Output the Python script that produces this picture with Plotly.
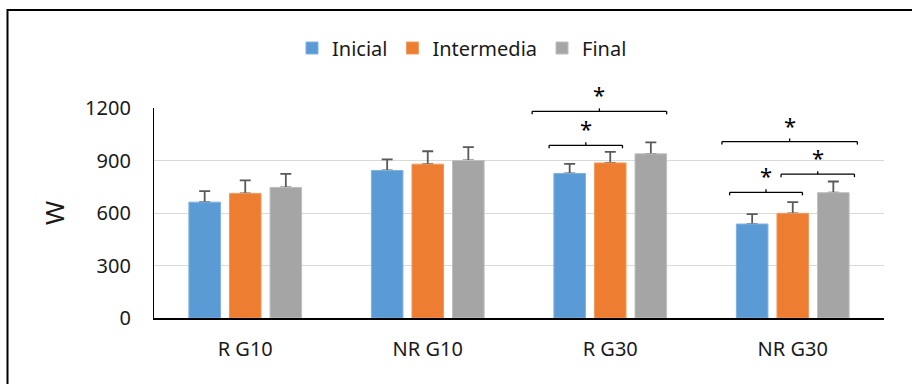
import plotly.graph_objects as go

# ---------------- data ----------------
categories = ["R G10", "NR G10", "R G30", "NR G30"]
series_names = ["Inicial", "Intermedia", "Final"]
inicial = [662, 843, 826, 537]
intermedia = [712, 879, 886, 598]
final = [746, 900, 938, 716]
err_inicial = [63, 64, 55, 57]
err_intermedia = [74, 74, 63, 64]
err_final = [78, 77, 66, 64]
y_ticks = [0, 300, 600, 900, 1200]

# significance brackets: category index, left/right offset (category units), y value
bracket_cat = [2, 2, 3, 3, 3]
bracket_x0 = [-0.428, -0.335, -0.388, -0.064, -0.346]
bracket_x1 = [0.309, 0.067, 0.354, 0.338, 0.053]
bracket_y = [1181, 987, 1008, 822, 718]
bracket_label = ["*", "*", "*", "*", "*"]

# ---------------- style ----------------
colors = ["#5B9BD5", "#ED7D31", "#A5A5A5"]
edge = ["#7FB2E0", "#F29A5E", "#BEBEBE"]
FONT = "Noto Sans"
W, H = 912, 384
ML, MR, MT, MB = 154, 28, 108, 66
plot_h = H - MT - MB
tick_data = 3 * (y_ticks[-1] - y_ticks[0]) / plot_h  # 3 px expressed in data units

values = [inicial, intermedia, final]
errors = [err_inicial, err_intermedia, err_final]
xs = list(range(len(categories)))

fig = go.Figure()
# invisible traces carrying the error bars (drawn first so the real bars cover the lower cap)
for i, name in enumerate(series_names):
    fig.add_trace(go.Bar(
        x=xs, y=values[i], offsetgroup=str(i), showlegend=False, hoverinfo="skip",
        marker=dict(color="rgba(0,0,0,0)", line=dict(width=0)),
        error_y=dict(type="data", symmetric=False, array=errors[i],
                     arrayminus=[0] * len(xs), color="#595959", thickness=1.8, width=5.5),
    ))
for i, name in enumerate(series_names):
    fig.add_trace(go.Bar(
        x=xs, y=values[i], name=name, offsetgroup=str(i),
        marker=dict(color=colors[i], line=dict(color=edge[i], width=1)),
    ))

shapes = []
annotations = []
for c, a, b, y, lab in zip(bracket_cat, bracket_x0, bracket_x1, bracket_y, bracket_label):
    x0, x1 = c + a, c + b
    xm = (x0 + x1) / 2
    line = dict(color="#000000", width=1.3)
    shapes.append(dict(type="line", xref="x", yref="y", x0=x0, x1=x1, y0=y, y1=y, line=line))
    shapes.append(dict(type="line", xref="x", yref="y", x0=x0, x1=x0, y0=y, y1=y - tick_data, line=line))
    shapes.append(dict(type="line", xref="x", yref="y", x0=x1, x1=x1, y0=y, y1=y - tick_data, line=line))
    shapes.append(dict(type="line", xref="x", yref="y", x0=xm, x1=xm, y0=y, y1=y + tick_data, line=line))
    annotations.append(dict(x=xm, y=y, xref="x", yref="y", text=lab, showarrow=False,
                            yanchor="middle", yshift=17,
                            font=dict(family=FONT, size=22, color="#000000")))

# outer chart frame (its right and bottom edges fall outside the picture)
pw = W - ML - MR
shapes.append(dict(type="rect", xref="paper", yref="paper",
                   x0=(7.5 - ML) / pw, x1=(W + 20 - ML) / pw,
                   y0=-(MB + 20) / plot_h, y1=(H - MB - 10) / plot_h,
                   line=dict(color="#000000", width=2), layer="above"))

fig.update_layout(
    width=W, height=H,
    margin=dict(l=ML, r=MR, t=MT, b=MB),
    paper_bgcolor="white", plot_bgcolor="white",
    barmode="group", bargap=0.333, bargroupgap=0.222,
    font=dict(family=FONT, size=20, color="#1a1a1a"),
    showlegend=True,
    legend=dict(orientation="h", x=(292 - ML) / pw, xanchor="left",
                y=(H - MB - 48) / plot_h, yanchor="middle",
                font=dict(family=FONT, size=20, color="#1a1a1a"),
                bgcolor="rgba(0,0,0,0)", traceorder="normal"),
    shapes=shapes,
    annotations=annotations,
    xaxis=dict(range=[-0.5, len(categories) - 0.5], tickvals=xs, ticktext=categories,
               showgrid=False, zeroline=False, showline=True, linecolor="#000000", linewidth=1.5,
               ticks="", ticklabelstandoff=12, tickfont=dict(family=FONT, size=20)),
    yaxis=dict(range=[y_ticks[0], y_ticks[-1]], tickvals=y_ticks, showgrid=True,
               gridcolor="#D9D9D9", gridwidth=1.3, zeroline=False, showline=True,
               linecolor="#000000", linewidth=1.3, ticks="", ticklabelstandoff=18,
               tickfont=dict(family=FONT, size=20),
               title=dict(text="W", standoff=12, font=dict(family=FONT, size=26))),
)

fig.write_html("out.html")
